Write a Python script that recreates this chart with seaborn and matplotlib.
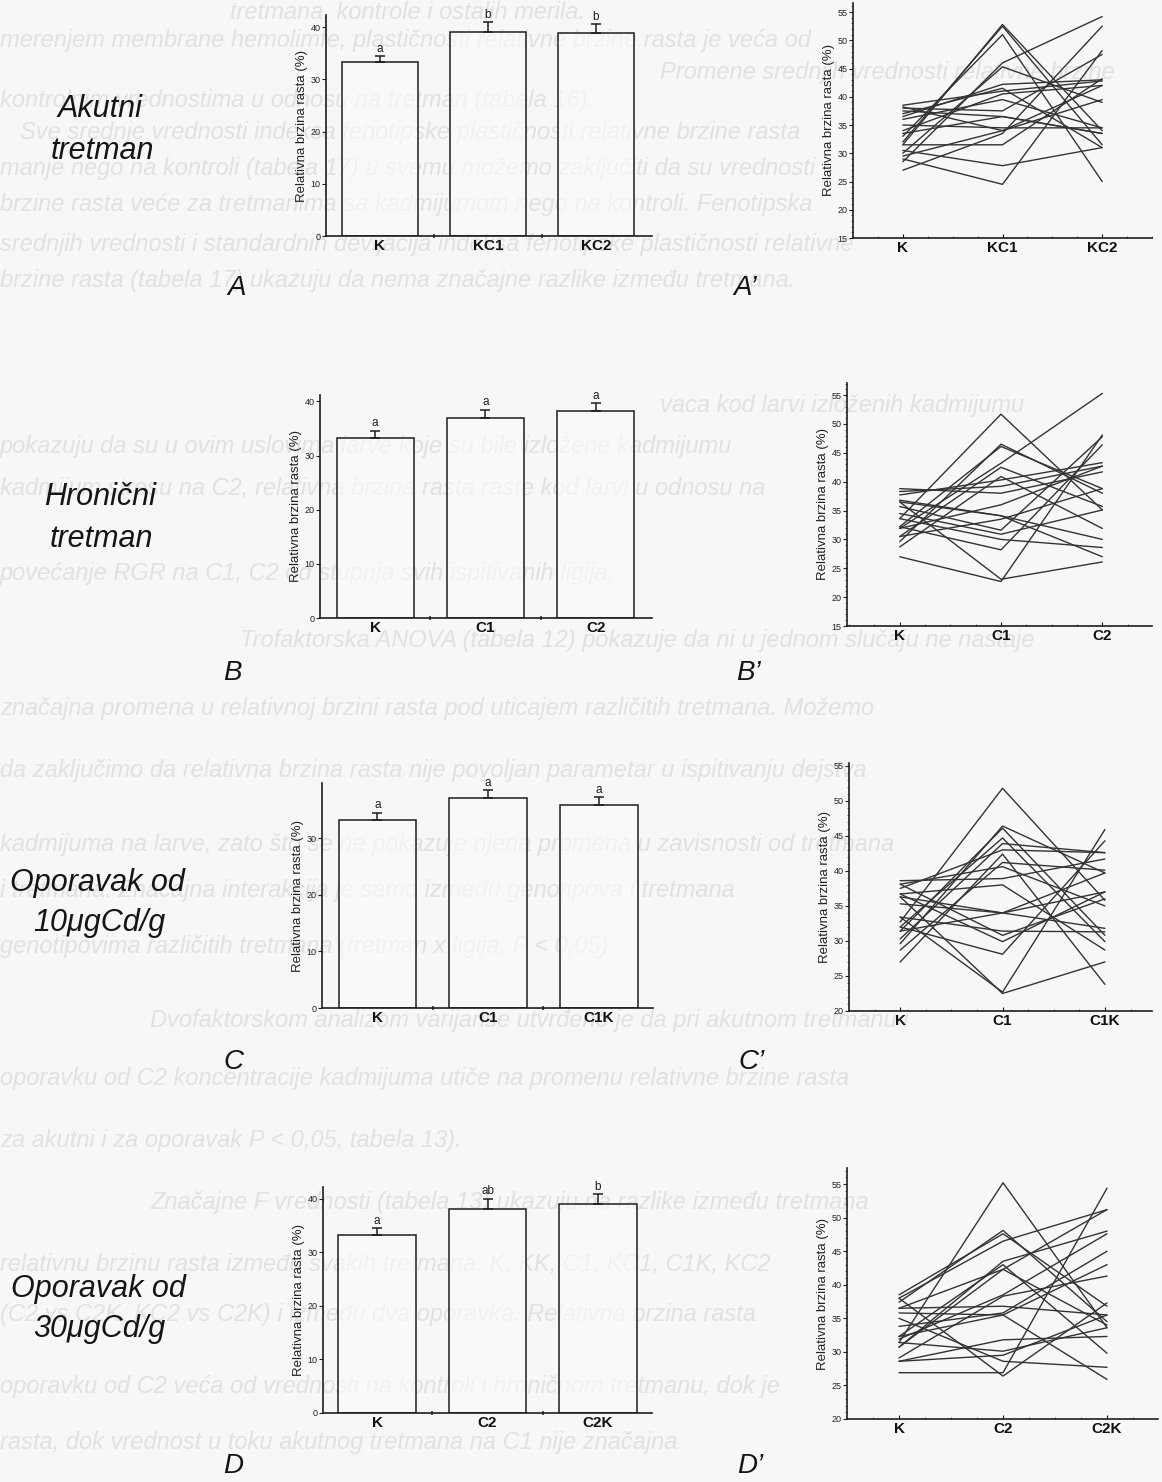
import numpy as np
import pandas as pd
import seaborn as sns
import matplotlib.pyplot as plt
from matplotlib.ticker import MultipleLocator, FixedLocator

W, H = 1162, 1482

# ---- bar panels: group means, upper error, letters ----
groups_a = ['K', 'KC1', 'KC2']
mean_a = [33.3, 39.1, 38.9]
err_a = [1.1, 1.8, 1.6]
sig_a = ['a', 'b', 'b']

groups_b = ['K', 'C1', 'C2']
mean_b = [33.2, 36.9, 38.2]
err_b = [1.4, 1.6, 1.5]
sig_b = ['a', 'a', 'a']

groups_c = ['K', 'C1', 'C1K']
mean_c = [33.2, 37.1, 35.8]
err_c = [1.3, 1.4, 1.4]
sig_c = ['a', 'a', 'a']

groups_d = ['K', 'C2', 'C2K']
mean_d = [33.2, 38.1, 39.0]
err_d = [1.3, 1.9, 1.9]
sig_d = ['a', 'ab', 'b']

# ---- individual larvae (first, second, third measurement) ----
ind_a_k = [31.5, 32.0, 33.0, 28.5, 30.0, 36.5, 37.0, 38.5, 27.0, 29.0, 34.0, 36.0, 38.0, 37.5, 35.0, 31.5, 30.5, 38.2, 33.5, 29.5]
ind_a_1 = [52.8, 52.5, 51.0, 46.0, 45.3, 42.2, 41.5, 41.0, 33.5, 24.5, 40.5, 39.5, 37.5, 36.5, 34.5, 31.5, 27.8, 34.0, 36.5, 34.0]
ind_a_2 = [34.0, 31.5, 25.0, 54.2, 39.0, 43.0, 31.0, 42.8, 52.5, 48.2, 42.0, 34.5, 47.5, 33.5, 34.5, 43.2, 31.0, 39.5, 33.5, 42.0]

ind_b_k = [33.6, 29.6, 32.2, 31.9, 30.5, 28.7, 37.7, 38.3, 38.8, 36.5, 36.8, 35.7, 34.5, 33.6, 32.2, 27.0, 36.5, 31.9, 30.5]
ind_b_1 = [51.7, 46.5, 46.1, 43.2, 42.5, 40.9, 40.3, 39.2, 38.0, 34.1, 34.1, 31.6, 30.9, 30.0, 28.2, 22.7, 23.1, 36.0, 33.5]
ind_b_2 = [35.1, 38.0, 38.8, 55.3, 35.7, 31.9, 43.3, 42.7, 41.7, 27.0, 30.0, 47.8, 35.1, 28.6, 46.4, 48.1, 26.1, 42.7, 38.8]

ind_c_k = [32.7, 29.6, 31.4, 32.0, 30.3, 37.5, 27.0, 28.7, 38.1, 38.6, 36.7, 36.3, 35.3, 33.4, 38.1, 36.7, 32.0, 33.4, 36.3, 31.4]
ind_c_1 = [51.8, 46.4, 46.1, 44.7, 43.9, 43.0, 42.4, 41.2, 40.6, 38.9, 38.0, 34.0, 34.0, 31.4, 30.8, 29.9, 28.1, 22.7, 22.5, 34.0]
ind_c_2 = [35.8, 39.7, 30.8, 29.9, 42.6, 42.6, 23.8, 40.1, 35.0, 41.7, 28.7, 31.8, 37.0, 31.3, 36.0, 37.0, 44.3, 45.9, 27.0, 39.7]

ind_d_k = [31.4, 37.4, 38.5, 38.0, 30.7, 32.3, 36.5, 31.9, 29.1, 36.5, 33.8, 32.3, 35.8, 28.6, 31.4, 35.0, 26.9, 38.0, 30.7, 28.6]
ind_d_1 = [55.2, 48.1, 47.6, 46.5, 43.5, 43.0, 42.3, 38.5, 38.3, 36.8, 35.8, 35.5, 35.5, 31.8, 30.1, 28.6, 26.9, 26.4, 42.3, 29.5]
ind_d_2 = [33.6, 34.5, 36.8, 51.2, 48.0, 29.8, 34.0, 47.6, 41.3, 35.5, 45.0, 43.0, 25.9, 32.3, 33.6, 27.7, 54.4, 37.3, 51.2, 35.5]

# ---- labels ----
row_labels = [('Akutni', 57, 109), ('tretman', 51, 151),
              ('Hronični', 44, 497), ('tretman', 50, 539),
              ('Oporavak od', 10, 883), ('10μgCd/g', 33, 923),
              ('Oporavak od', 11, 1289), ('30μgCd/g', 33, 1329)]
panel_letters = [('A', 237, 288), ('A’', 745, 288),
                 ('B', 232, 673), ('B’', 748, 673),
                 ('C', 233, 1062), ('C’', 752, 1062),
                 ('D', 233, 1466), ('D’', 750, 1466)]

# faint text showing through from the back of the scanned page
bg_lines = [
    (12, 230, 'tretmana, kontrole i ostalih merila.'),
    (40, 0, 'merenjem membrane hemolimfe, plastičnosti relativne brzine rasta je veća od'),
    (72, 660, 'Promene srednjih vrednosti relativne brzine'),
    (100, 0, 'kontrolnim vrednostima u odnosu na tretman (tabela 16).'),
    (133, 20, 'Sve srednje vrednosti indeksa fenotipske plastičnosti relativne brzine rasta'),
    (168, 0, 'manje nego na kontroli (tabela 17) u svemu možemo zaključiti da su vrednosti'),
    (205, 0, 'brzine rasta veće za tretmanima sa kadmijumom nego na kontroli. Fenotipska'),
    (245, 0, 'srednjih vrednosti i standardnih devijacija indeksa fenotipske plastičnosti relativne'),
    (280, 0, 'brzine rasta (tabela 17) ukazuju da nema značajne razlike između tretmana.'),
    (405, 660, 'vaca kod larvi izloženih kadmijumu'),
    (447, 0, 'pokazuju da su u ovim uslovima larve koje su bile izložene kadmijumu'),
    (488, 0, 'kadmijum stresu na C2, relativna brzina rasta raste kod larvi u odnosu na'),
    (573, 0, 'povećanje RGR na C1, C2 od stupnja svih ispitivanih ligija.'),
    (640, 240, 'Trofaktorska ANOVA (tabela 12) pokazuje da ni u jednom slučaju ne nastaje'),
    (708, 0, 'značajna promena u relativnoj brzini rasta pod uticajem različitih tretmana. Možemo'),
    (770, 0, 'da zaključimo da relativna brzina rasta nije povoljan parametar u ispitivanju dejstva'),
    (845, 0, 'kadmijuma na larve, zato što se ne pokazuje njena promena u zavisnosti od tretmana'),
    (890, 0, 'i tretmana. Značajna interakcija je samo između genotipova i tretmana'),
    (947, 0, 'genotipovima različitih tretmana (tretman x ligija, P < 0,05).'),
    (1021, 150, 'Dvofaktorskom analizom varijanse utvrđeno je da pri akutnom tretmanu i'),
    (1078, 0, 'oporavku od C2 koncentracije kadmijuma utiče na promenu relativne brzine rasta'),
    (1141, 0, 'za akutni i za oporavak P < 0,05, tabela 13).'),
    (1203, 150, 'Značajne F vrednosti (tabela 13) ukazuju na razlike između tretmana'),
    (1265, 0, 'relativnu brzinu rasta između svakih tretmana, K, KK, C1, KC1, C1K, KC2'),
    (1315, 0, '(C2 vs C2K, KC2 vs C2K) i između dva oporavka. Relativna brzina rasta'),
    (1386, 0, 'oporavku od C2 veća od vrednosti na kontroli i hroničnom tretmanu, dok je'),
    (1442, 0, 'rasta, dok vrednost u toku akutnog tretmana na C1 nije značajna'),
]

sns.set_theme(style='white')
plt.rcParams['font.family'] = ['Liberation Sans', 'DejaVu Sans']

fig = plt.figure(figsize=(W / 100, H / 100), dpi=100, facecolor='#f7f7f7')


def box(l, t, r, b):
    return [l / W, 1 - b / H, (r - l) / W, (b - t) / H]


def style_axes(ax):
    for s in ['top', 'right']:
        ax.spines[s].set_visible(False)
    for s in ['left', 'bottom']:
        ax.spines[s].set_color('#1e1e1e')
        ax.spines[s].set_linewidth(1.2)
    ax.set_facecolor('none')
    ax.set_xlabel('')
    ax.set_ylabel('Relativna brzina rasta (%)', fontsize=9.5, color='#222', labelpad=2)
    ax.tick_params(axis='y', direction='out', length=3, width=0.8, labelsize=6.5,
                   colors='#222', pad=1, left=True)
    ax.tick_params(axis='x', labelsize=11, colors='#111', pad=2)
    for t in ax.get_xticklabels():
        t.set_fontweight('bold')


def bar_panel(rect, groups, means, errs, sigs, ylim, xlim, yticks):
    ax = fig.add_axes(box(*rect))
    df = pd.DataFrame({'grupa': groups, 'rgr': means})
    sns.barplot(data=df, x='grupa', y='rgr', order=groups, color='#fcfcfc',
                edgecolor='#1e1e1e', linewidth=1.1, width=0.7, errorbar=None, ax=ax)
    for p in ax.patches:
        p.set_facecolor((0.99, 0.99, 0.99, 0.6))
        p.set_edgecolor('#1e1e1e')
    x = np.arange(len(groups))
    ax.errorbar(x, means, yerr=[np.zeros(len(errs)), errs], fmt='none',
                ecolor='#1e1e1e', elinewidth=1.1, capsize=3.3, capthick=1.1)
    for xi, m, e, s in zip(x, means, errs, sigs):
        ax.text(xi, m + e + 0.25, s, ha='center', va='bottom', fontsize=8.5, color='#1e1e1e')
    ax.set_ylim(*ylim)
    ax.set_xlim(*xlim)
    ax.set_yticks(yticks)
    ax.xaxis.set_minor_locator(FixedLocator([0.5, 1.5]))
    ax.tick_params(axis='x', which='major', length=0)
    ax.tick_params(axis='x', which='minor', direction='inout', length=3, width=1.2,
                   colors='#333', bottom=True)
    style_axes(ax)
    return ax


def line_panel(rect, groups, v0, v1, v2, ylim, xlim):
    ax = fig.add_axes(box(*rect))
    rows = []
    for i, vals in enumerate(zip(v0, v1, v2)):
        for pos, v in enumerate(vals):
            rows.append({'larva': i, 'pos': pos, 'rgr': v})
    df = pd.DataFrame(rows)
    sns.lineplot(data=df, x='pos', y='rgr', units='larva', estimator=None,
                 color='#333333', linewidth=1.0, ax=ax, legend=False)
    ax.set_xlim(*xlim)
    ax.set_ylim(*ylim)
    ax.set_xticks(range(len(groups)))
    ax.set_xticklabels(groups)
    ax.set_yticks(np.arange(ylim[0], 56, 5))
    ax.yaxis.set_minor_locator(MultipleLocator(1))
    ax.xaxis.set_minor_locator(MultipleLocator(0.25))
    ax.tick_params(axis='x', which='major', direction='in', length=3, width=0.8,
                   colors='#333', bottom=True)
    ax.tick_params(axis='x', which='minor', direction='in', length=1.5, width=0.6,
                   colors='#555', bottom=True)
    ax.tick_params(axis='y', which='minor', direction='out', length=1.5, width=0.6,
                   colors='#555', left=True)
    style_axes(ax)
    return ax


bar_panel((326, 15, 652, 236), groups_a, mean_a, err_a, sig_a, (0, 42.3), (-0.5, 2.52), [0, 10, 20, 30, 40])
bar_panel((320, 395, 652, 618), groups_b, mean_b, err_b, sig_b, (0, 41.2), (-0.5, 2.51), [0, 10, 20, 30, 40])
bar_panel((322, 783, 653, 1008), groups_c, mean_c, err_c, sig_c, (0, 39.75), (-0.5, 2.49), [0, 10, 20, 30])
bar_panel((323, 1187, 652, 1413), groups_d, mean_d, err_d, sig_d, (0, 42.2), (-0.49, 2.49), [0, 10, 20, 30, 40])

line_panel((853, 3, 1152, 238), groups_a, ind_a_k, ind_a_1, ind_a_2, (15, 56.6), (-0.5, 2.5))
line_panel((847, 383, 1152, 626), groups_b, ind_b_k, ind_b_1, ind_b_2, (15, 57.1), (-0.52, 2.49))
line_panel((849, 763, 1152, 1011), groups_c, ind_c_k, ind_c_1, ind_c_2, (20, 55.4), (-0.5, 2.46))
line_panel((847, 1168, 1158, 1419), groups_d, ind_d_k, ind_d_1, ind_d_2, (20, 57.4), (-0.5, 2.49))

for txt, x, y in row_labels:
    fig.text(x / W, 1 - y / H, txt, ha='left', va='center', fontsize=22,
             fontstyle='italic', color='#151515')

for txt, x, y in panel_letters:
    fig.text(x / W, 1 - y / H, txt, ha='center', va='center', fontsize=20,
             fontstyle='italic', color='#151515')

for y, x, txt in bg_lines:
    fig.text(x / W, 1 - y / H, txt, ha='left', va='center', fontsize=17,
             fontstyle='italic', color='#e1e1e1', zorder=-5)

fig.savefig('out.png', dpi=100, facecolor=fig.get_facecolor())
